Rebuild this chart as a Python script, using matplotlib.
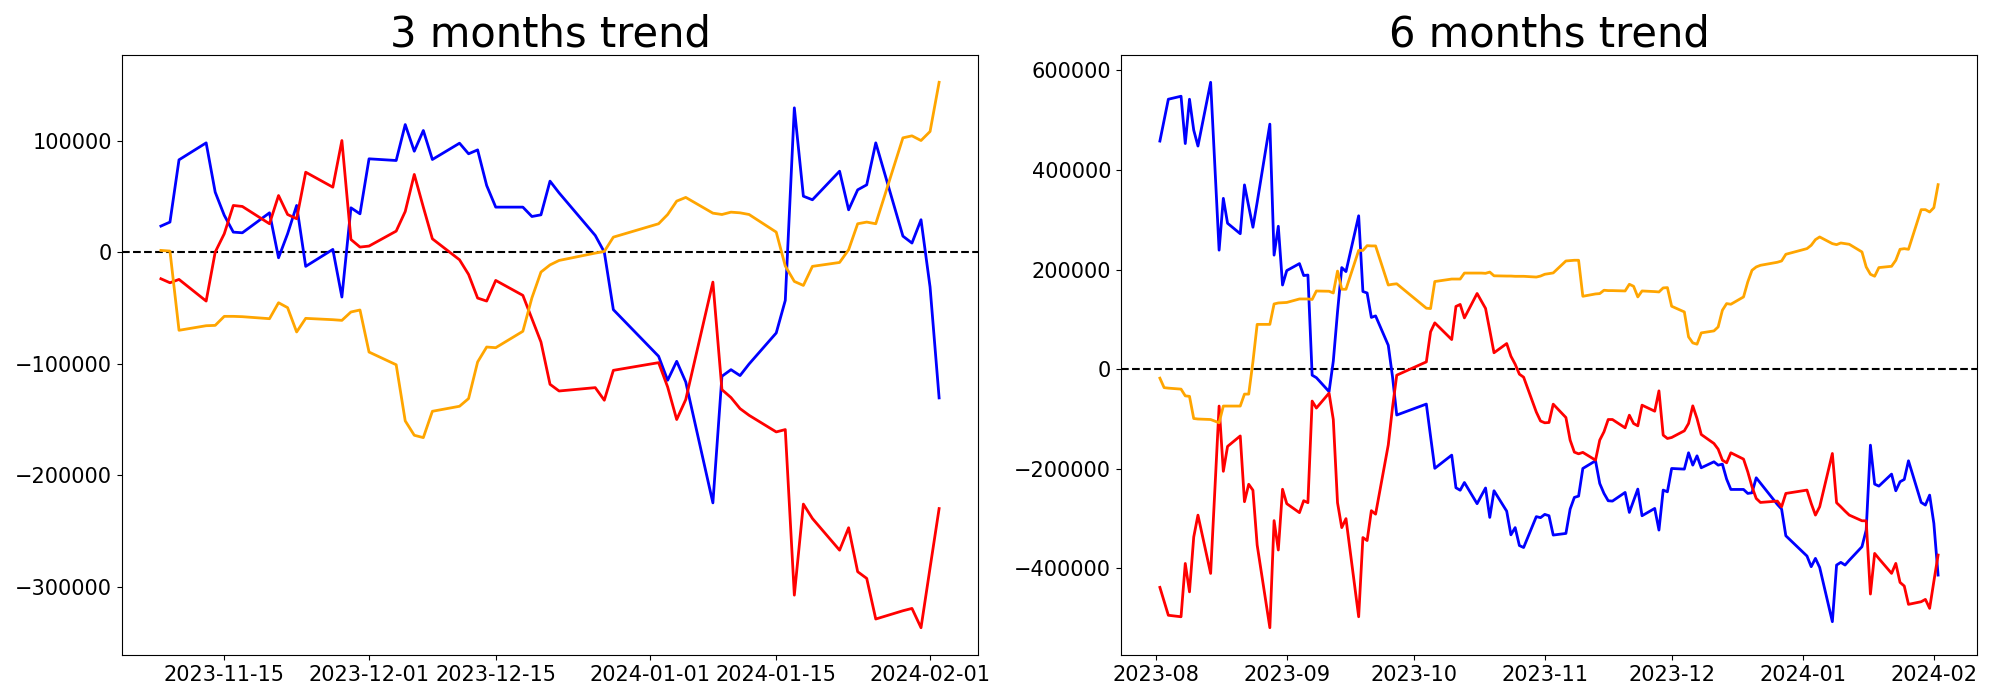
import pandas as pd
import matplotlib
matplotlib.use('Agg')
import matplotlib.pyplot as plt

# market closed days inside the window
holidays = ['2023-08-15', '2023-09-28', '2023-09-29', '2023-10-02', '2023-10-03',
            '2023-10-09', '2023-12-25', '2023-12-29', '2024-01-01']
days_6m = pd.bdate_range('2023-08-02', '2024-02-02').drop(pd.to_datetime(holidays))
days_3m = days_6m[days_6m >= '2023-11-08']

# 3 months (2023-11-08 ~ 2024-02-02)
blue_3m = [23300, 26900, 82700, 97900, 53700, 33000, 17900, 17300, 35200, -5100, 16400, 41800, -12800, 2400, -40300, 39700, 34300,
           83600, 82100, 114300, 90400, 109000, 83000, 97600, 88100, 91600, 59700, 40300, 40300, 31900, 33400, 63600, 53100, 14900, 0, -51600,
           -93400, -114900, -97900, -116400, -224800, -111300, -105400, -110700, -100300, -72500, -43300, 129300, 50100, 46900, 72500, 37900,
           55800, 60300, 97900, 14300, 8100, 29000,
           -31300, -130700]
red_3m = [-23900, -27500, -24500, -43900, 0, 16400, 41800, 40900, 25400, 50700, 33700, 29900, 71600, 58200, 100000, 11300, 4500,
          5400, 18800, 36400, 69600, 40300, 11900, -6900, -20000, -41200, -43900, -25400, -38800, -59700, -80600, -118500, -124500, -121500, -132800, -106000,
          -99100, -120900, -150100, -132200, -26900, -123300, -130400, -140300, -146300, -161200, -159100, -307500, -225900, -238800, -267200, -247100,
          -286500, -292500, -328900, -321500, -319400, -336700,
          -283000, -229900]
orange_3m = [1500, 900, -70100, -66000, -65700, -57600, -57600, -57900, -59700, -45400, -49800, -71600, -59400, -60600, -61200, -53700, -51900,
             -89600, -101000, -151300, -164200, -166300, -142700, -138200, -131300, -98500, -85100, -85700, -71000, -41000, -17900, -11500, -7500, -900, 600, 13400,
             25400, 33700, 45700, 49000, 34900, 33700, 35800, 35200, 33700, 17900, -12500, -26300, -29900, -12800, -9300, 2100,
             25400, 26900, 25400, 102400, 104200, 100000,
             108100, 152200]

# 6 months (2023-08-02 ~ 2024-02-02)
blue_6m = [458000, 500000, 542000, 548000, 453000, 542000, 480000, 448000, 576000, 239000, 343000, 293000, 272000, 370000, 327000, 285000,
           335000, 492000, 229000, 287000, 169000,
           198000, 212000, 188000, 189000, -12000, -17000, -45000, 16000, 115000, 204000, 196000, 308000, 156000, 153000, 104000, 107000,
           48000, -15000, -92000,
           -70000, -135000, -199000, -172500, -238000, -243000, -227500, -270000, -254000, -238500, -297500, -244000, -285000, -332500,
           -318000, -354000, -358000, -296000, -298000,
           -291500, -294200, -333000, -329700, -280900, -257400, -254800, -199300, -183900, -229400, -249400, -264100, -264800, -247400,
           -287500, -264100, -240700, -294200, -279500, -323000, -242700, -246100,
           -199300, -200600, -167800, -192600, -173900, -197900, -185900, -192600, -190600, -220700, -241400, -241400, -249400, -248100,
           -218000, -228700, -271500, -280900, -334400,
           -375100, -396500, -379800, -397900, -506900, -393200, -387800, -393200, -383600, -356400, -323000, -152500, -230700, -234700,
           -210600, -244100, -226000, -221300, -183900, -267500, -272800, -252800,
           -309600, -413300]
red_6m = [-438000, -466000, -494000, -497000, -390000, -447000, -337000, -293000, -410000, -74000, -205000, -155000, -134000, -266000,
          -231000, -243000, -353000, -519000, -304000, -363000, -241000,
          -270000, -288000, -264000, -268000, -64000, -78000, -48000, -101000, -268000, -318000, -300000, -497000, -338000, -344000,
          -284000, -291000, -152000, -77000, -12000,
          14700, 75000, 93000, 59500, 126000, 130000, 103000, 152000, 137000, 122000, 78000, 33000, 51500, 26000, 10000, -10000,
          -16000, -86000, -104000,
          -107600, -107000, -70200, -97000, -142400, -166500, -169900, -167000, -182600, -142400, -125700, -101000, -101000, -117700,
          -92300, -109000, -113700, -72200, -84300, -43500, -132400, -139100,
          -137100, -123700, -109000, -73600, -99000, -131100, -149100, -160500, -182600, -187900, -167800, -180500, -206000, -236100,
          -259500, -267500, -264800, -276200, -249400,
          -242700, -269500, -292900, -276200, -169200, -268100, -276200, -284900, -292900, -304300, -304300, -451400, -369800, -380200,
          -409900, -389900, -428000, -435300, -472100, -466800, -462100, -480100,
          -426000, -373100]
orange_6m = [-18000, -37000, -38000, -40000, -53500, -54500, -99000, -100000, -101000, -107500, -74000, -74000, -74000, -50000,
             -50000, 15000, 90000, 90000, 131000, 133000, 133500,
             134000, 141000, 141000, 141000, 140000, 157000, 156500, 153000, 197000, 160500, 160500, 238500, 238500, 248000,
             247500, 247500, 169000, 170500, 171500,
             122500, 121700, 176000, 181000, 181000, 181000, 193000, 193000, 193000, 192500, 195000, 187500, 187000, 187000,
             186500, 186500, 186500, 185000, 187000,
             190600, 191900, 193300, 217300, 218000, 218700, 218700, 146400, 151100, 151800, 158500, 157800, 157800, 157100,
             170500, 166500, 145100, 157100, 155800, 155100, 163200, 163800,
             126400, 115000, 64900, 52800, 50200, 72900, 76900, 84900, 118400, 131700, 130400, 145100, 175200, 198600,
             205300, 208600, 214700, 217300, 230700,
             242100, 248800, 260100, 265500, 252100, 250100, 253400, 252100, 250800, 235400, 205300, 190600, 186600, 204000,
             206600, 218700, 240700, 242000, 240700, 320300, 320300, 315600,
             324300, 370500]

plt.rcParams['font.size'] = 15

fig, (ax1, ax2) = plt.subplots(1, 2, figsize=(20, 7))
fig.subplots_adjust(left=0.061, right=0.9885, bottom=0.0643, top=0.9214, wspace=0.167)

panels = [(ax1, days_3m, blue_3m, red_3m, orange_3m, '3 months trend'),
          (ax2, days_6m, blue_6m, red_6m, orange_6m, '6 months trend')]

for ax, days, b, r, o, title in panels:
    ax.axhline(0, color='black', linestyle='--', linewidth=1.5)
    ax.plot(days, b, color='blue', linewidth=2)
    ax.plot(days, r, color='red', linewidth=2)
    ax.plot(days, o, color='orange', linewidth=2)
    ax.set_title(title, fontsize=30)

fig.savefig('out.png', dpi=100)
